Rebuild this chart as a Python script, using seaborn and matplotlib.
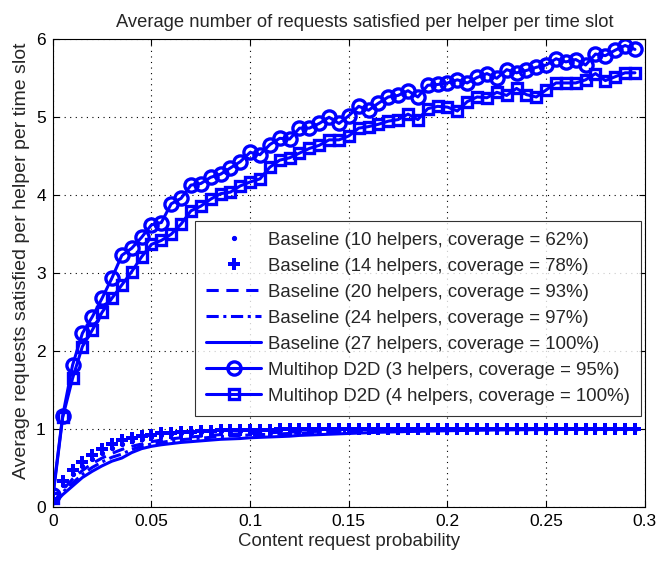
import numpy as np
import pandas as pd
import matplotlib
matplotlib.use("Agg")
import matplotlib.pyplot as plt
import seaborn as sns

# Content request probability (x axis)
request_prob = [round(0.005 * i, 3) for i in range(60)]

# Baseline schemes
baseline_10 = [0.08, 0.28, 0.42, 0.53, 0.62, 0.70, 0.76, 0.81, 0.85, 0.88,
               0.90, 0.92, 0.935, 0.945, 0.955, 0.962, 0.968, 0.974, 0.978, 0.982,
               0.985, 0.988, 0.99, 0.992, 0.993, 0.994, 0.995, 0.996, 0.997, 0.997,
               0.998, 0.998, 0.998, 0.999, 0.999, 0.999, 0.999, 1.0, 1.0, 1.0,
               1.0, 1.0, 1.0, 1.0, 1.0, 1.0, 1.0, 1.0, 1.0, 1.0,
               1.0, 1.0, 1.0, 1.0, 1.0, 1.0, 1.0, 1.0, 1.0, 1.0]
baseline_14 = [0.10, 0.33, 0.47, 0.58, 0.67, 0.75, 0.81, 0.86, 0.89, 0.91,
               0.93, 0.945, 0.955, 0.965, 0.97, 0.975, 0.98, 0.984, 0.987, 0.99,
               0.992, 0.994, 0.995, 0.996, 0.997, 0.998, 0.998, 0.999, 0.999, 0.999,
               1.0, 1.0, 1.0, 1.0, 1.0, 1.0, 1.0, 1.0, 1.0, 1.0,
               1.0, 1.0, 1.0, 1.0, 1.0, 1.0, 1.0, 1.0, 1.0, 1.0,
               1.0, 1.0, 1.0, 1.0, 1.0, 1.0, 1.0, 1.0, 1.0, 1.0]
baseline_20 = [0.05, 0.22, 0.36, 0.47, 0.56, 0.63, 0.69, 0.74, 0.78, 0.81,
               0.84, 0.86, 0.875, 0.89, 0.90, 0.91, 0.92, 0.93, 0.935, 0.94,
               0.945, 0.95, 0.955, 0.96, 0.963, 0.966, 0.97, 0.972, 0.975, 0.977,
               0.98, 0.982, 0.984, 0.986, 0.988, 0.99, 0.991, 0.992, 0.993, 0.994,
               0.995, 0.996, 0.996, 0.997, 0.997, 0.998, 0.998, 0.998, 0.999, 0.999,
               0.999, 0.999, 1.0, 1.0, 1.0, 1.0, 1.0, 1.0, 1.0, 1.0]
baseline_24 = [0.04, 0.19, 0.31, 0.42, 0.51, 0.58, 0.64, 0.68, 0.74, 0.78,
               0.81, 0.83, 0.85, 0.865, 0.875, 0.885, 0.895, 0.905, 0.915, 0.92,
               0.925, 0.93, 0.935, 0.94, 0.945, 0.95, 0.955, 0.96, 0.963, 0.966,
               0.97, 0.972, 0.975, 0.977, 0.98, 0.982, 0.984, 0.986, 0.988, 0.99,
               0.991, 0.992, 0.993, 0.994, 0.995, 0.996, 0.996, 0.997, 0.997, 0.998,
               0.998, 0.998, 0.999, 0.999, 0.999, 1.0, 1.0, 1.0, 1.0, 1.0]
baseline_27 = [0.03, 0.16, 0.27, 0.38, 0.46, 0.53, 0.59, 0.63, 0.70, 0.75,
               0.78, 0.80, 0.815, 0.83, 0.84, 0.85, 0.86, 0.87, 0.875, 0.88,
               0.89, 0.895, 0.90, 0.905, 0.91, 0.92, 0.925, 0.93, 0.935, 0.94,
               0.945, 0.95, 0.955, 0.96, 0.963, 0.966, 0.97, 0.972, 0.975, 0.977,
               0.98, 0.982, 0.984, 0.986, 0.988, 0.99, 0.991, 0.992, 0.993, 0.994,
               0.995, 0.996, 0.997, 0.997, 0.998, 0.998, 0.999, 0.999, 1.0, 1.0]

# Multihop D2D schemes
multihop_3 = [0.15, 1.17, 1.82, 2.23, 2.44, 2.68, 2.94, 3.23, 3.32, 3.46,
              3.62, 3.65, 3.89, 3.96, 4.13, 4.15, 4.23, 4.27, 4.35, 4.43,
              4.55, 4.52, 4.65, 4.73, 4.72, 4.86, 4.86, 4.92, 5.00, 4.92,
              5.02, 5.14, 5.09, 5.18, 5.26, 5.28, 5.34, 5.26, 5.41, 5.42,
              5.44, 5.48, 5.44, 5.51, 5.56, 5.50, 5.61, 5.57, 5.60, 5.64,
              5.67, 5.75, 5.71, 5.74, 5.67, 5.81, 5.79, 5.86, 5.92, 5.87]
multihop_4 = [0.12, 1.15, 1.65, 2.06, 2.27, 2.50, 2.68, 2.85, 3.02, 3.21,
              3.37, 3.42, 3.50, 3.63, 3.80, 3.86, 3.95, 4.02, 4.04, 4.12,
              4.17, 4.21, 4.36, 4.45, 4.48, 4.54, 4.60, 4.64, 4.71, 4.71,
              4.76, 4.86, 4.88, 4.91, 4.95, 4.97, 5.04, 4.97, 5.11, 5.14,
              5.13, 5.08, 5.20, 5.26, 5.25, 5.32, 5.28, 5.37, 5.29, 5.26,
              5.35, 5.44, 5.44, 5.44, 5.48, 5.56, 5.47, 5.52, 5.57, 5.57]

labels = [
    "Baseline (10 helpers, coverage = 62%)",
    "Baseline (14 helpers, coverage = 78%)",
    "Baseline (20 helpers, coverage = 93%)",
    "Baseline (24 helpers, coverage = 97%)",
    "Baseline (27 helpers, coverage = 100%)",
    "Multihop D2D (3 helpers, coverage = 95%)",
    "Multihop D2D (4 helpers, coverage = 100%)",
]
series = [baseline_10, baseline_14, baseline_20, baseline_24, baseline_27,
          multihop_3, multihop_4]

sns.set_theme(style="white")
plt.rcParams["font.family"] = ["Liberation Sans", "DejaVu Sans"]

blue = (0.0, 0.0, 1.0)
styles = [
    dict(linestyle="none", marker=".", markersize=6, markeredgecolor=blue),
    dict(linestyle="none", marker="P", markersize=8.5, markeredgewidth=0),
    dict(linestyle=(0, (4, 2.5)), linewidth=2.2),
    dict(linestyle=(0, (4, 1.5, 1, 1.5)), linewidth=2.2),
    dict(linestyle="-", linewidth=2.2),
    dict(linestyle="-", linewidth=2.2, marker="o", markersize=9.5,
         markerfacecolor="none", markeredgecolor=blue, markeredgewidth=2.4),
    dict(linestyle="-", linewidth=2.2, marker="s", markersize=7.5,
         markerfacecolor="none", markeredgecolor=blue, markeredgewidth=2.4),
]

fig = plt.figure(figsize=(6.6, 5.61), dpi=100)
ax = fig.add_axes([0.080, 0.096, 0.897, 0.834])

for vals, lab, st in zip(series, labels, styles):
    df = pd.DataFrame({"p": request_prob, "v": vals})
    sns.lineplot(data=df, x="p", y="v", ax=ax, color=blue, label=lab,
                 estimator=None, sort=False, **st)

ax.set_xlim(0, 0.3)
ax.set_ylim(0, 6)
ax.set_xticks([0, 0.05, 0.1, 0.15, 0.2, 0.25, 0.3])
ax.set_xticklabels(["0", "0.05", "0.1", "0.15", "0.2", "0.25", "0.3"])
ax.set_yticks(range(7))
ax.set_yticklabels([str(v) for v in range(7)])
ax.tick_params(direction="in", length=4, width=0.8, colors="black",
               labelsize=12.5, top=True, right=True, bottom=True, left=True, pad=5)
ax.grid(True, linestyle=(0, (1, 4)), color="black", linewidth=0.8)
for sp in ax.spines.values():
    sp.set_color("black")
    sp.set_linewidth(0.8)

ax.set_title("Average number of requests satisfied per helper per time slot",
             fontsize=13.2, pad=9, x=0.527)
ax.set_xlabel("Content request probability", fontsize=13.4, labelpad=3)
ax.set_ylabel("Average requests satisfied per helper per time slot",
              fontsize=14, labelpad=5)
ax.yaxis.set_label_coords(-0.038, 0.526)

leg = ax.legend(loc="lower right", bbox_to_anchor=(0.994, 0.195), fontsize=13.4,
                frameon=True, fancybox=False, edgecolor="black",
                handlelength=2.95, borderpad=0.6, labelspacing=0.48,
                handletextpad=0.38, borderaxespad=0.0)
leg.get_frame().set_linewidth(0.8)

fig.savefig("out.png", dpi=100)
